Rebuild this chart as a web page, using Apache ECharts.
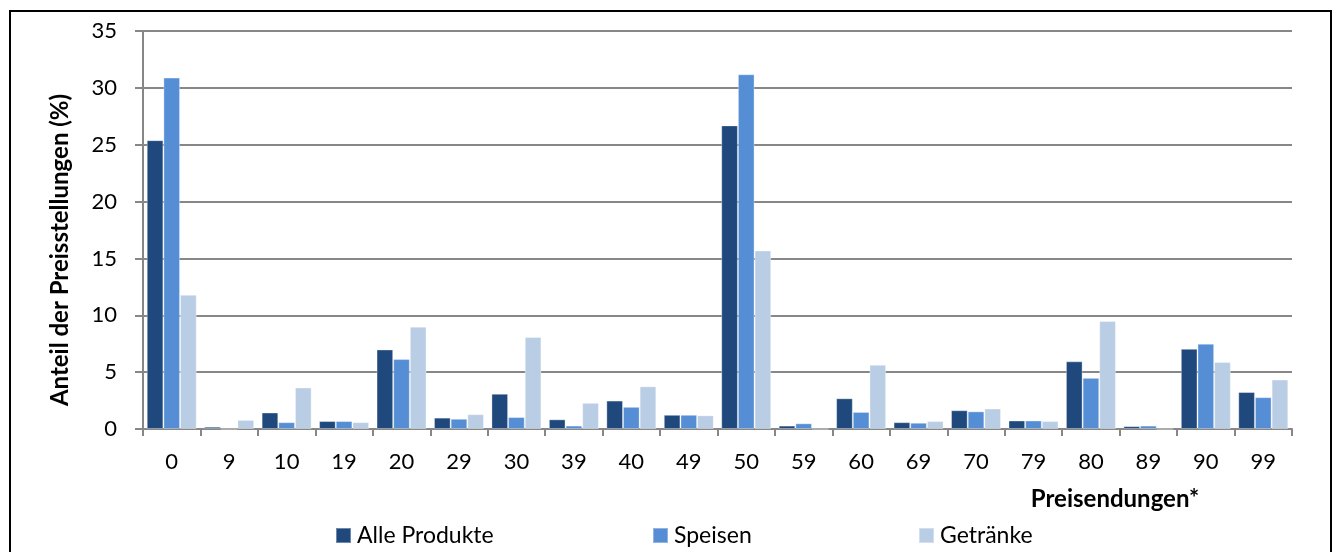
<!DOCTYPE html>
<html>
<head>
<meta charset="utf-8">
<script src="https://cdn.jsdelivr.net/npm/echarts@6/dist/echarts.min.js"></script>
<style>
html,body{margin:0;padding:0;background:#fff;}
#chart{width:1333px;height:552px;}
</style>
</head>
<body>
<div id="chart"></div>
<script>
const categories = ['0','9','10','19','20','29','30','39','40','49','50','59','60','69','70','79','80','89','90','99'];
const alleProdukte = [25.4, 0.2, 1.45, 0.7, 7.0, 1.0, 3.1, 0.85, 2.5, 1.25, 26.7, 0.3, 2.7, 0.6, 1.65, 0.75, 5.95, 0.25, 7.05, 3.25];
const speisen = [30.9, 0.0, 0.6, 0.7, 6.15, 0.9, 1.05, 0.3, 1.95, 1.25, 31.2, 0.5, 1.5, 0.55, 1.55, 0.75, 4.5, 0.3, 7.5, 2.8];
const getraenke = [11.8, 0.8, 3.65, 0.6, 9.0, 1.3, 8.1, 2.3, 3.75, 1.2, 15.7, 0.0, 5.65, 0.7, 1.8, 0.7, 9.5, 0.0, 5.9, 4.35];
const seriesNames = ['Alle Produkte', 'Speisen', 'Getränke'];
const yTicks = {min: 0, max: 35, interval: 5};
const yTitle = 'Anteil der Preisstellungen (%)';
const xTitle = 'Preisendungen*';

const FONT = 'Lato';
const colors = ['#1F497D', '#558ED5', '#B9CDE5'];
const chart = echarts.init(document.getElementById('chart'), null, {renderer: 'canvas'});

function legendFor(name, left) {
  return {
    data: [name], left: left, top: 519, itemWidth: 15, itemHeight: 15, itemGap: 0,
    icon: 'rect', selectedMode: false,
    textStyle: {fontFamily: FONT, fontSize: 23, color: '#000', padding: [0, 0, 0, 1]}
  };
}

const barStyle = (c) => ({color: c, borderColor: 'rgba(255,255,255,0.35)', borderWidth: 1});

chart.setOption({
  animation: false,
  backgroundColor: '#fff',
  grid: {left: 143, right: 41, top: 31, bottom: 123},
  legend: [legendFor(seriesNames[0], 330), legendFor(seriesNames[1], 647), legendFor(seriesNames[2], 913)],
  xAxis: {
    type: 'category', data: categories, boundaryGap: true,
    axisLine: {lineStyle: {color: '#878787', width: 2}},
    axisTick: {show: true, length: 7, alignWithLabel: false, lineStyle: {color: '#878787', width: 2}},
    axisLabel: {fontFamily: FONT, fontSize: 22, color: '#000', margin: 22, interval: 0}
  },
  yAxis: {
    type: 'value', min: yTicks.min, max: yTicks.max, interval: yTicks.interval,
    axisLine: {show: true, lineStyle: {color: '#878787', width: 2}},
    axisTick: {show: true, length: 8, lineStyle: {color: '#878787', width: 2}},
    axisLabel: {fontFamily: FONT, fontSize: 22, color: '#000', margin: 26},
    splitLine: {show: true, lineStyle: {color: '#878787', width: 2}}
  },
  graphic: [
    {type: 'rect', shape: {x: 10, y: 11, width: 1321, height: 600}, style: {fill: 'none', stroke: '#000', lineWidth: 2}, silent: true, z: 100},
    {type: 'text', x: 60, y: 250, rotation: Math.PI / 2,
     style: {text: yTitle, fontFamily: FONT, fontWeight: 'bold', fontSize: 24, fill: '#000', textAlign: 'center', textVerticalAlign: 'middle'}},
    {type: 'text', x: 1115, y: 499,
     style: {text: xTitle, fontFamily: FONT, fontWeight: 'bold', fontSize: 24, fill: '#000', textAlign: 'center', textVerticalAlign: 'middle'}}
  ],
  series: [
    {name: seriesNames[0], type: 'bar', data: alleProdukte, barGap: '0%', barCategoryGap: '13%', itemStyle: barStyle(colors[0])},
    {name: seriesNames[1], type: 'bar', data: speisen, barGap: '0%', barCategoryGap: '13%', itemStyle: barStyle(colors[1])},
    {name: seriesNames[2], type: 'bar', data: getraenke, barGap: '0%', barCategoryGap: '13%', itemStyle: barStyle(colors[2])}
  ]
});
</script>
</body>
</html>
